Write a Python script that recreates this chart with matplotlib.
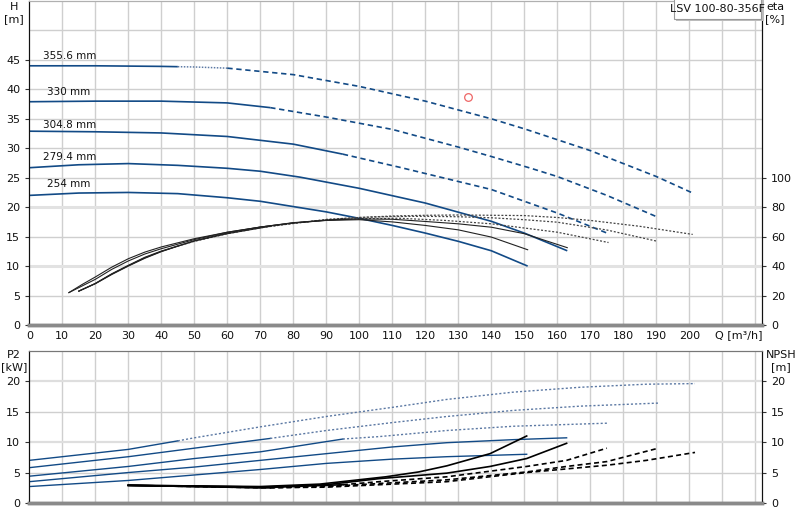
import numpy as np
import matplotlib
matplotlib.use("Agg")
import matplotlib.pyplot as plt
from matplotlib.patches import Rectangle

plt.rcParams['font.family'] = ['DejaVu Sans']

# ---------------- data ----------------
diam_labels = ["355.6 mm", "330 mm", "304.8 mm", "279.4 mm", "254 mm"]
label_pos_q = [4.2, 5.4, 4.2, 4.2, 5.4]
label_pos_h = [45.6, 39.6, 34.0, 28.6, 23.9]

# Head curves
Q_h355 = [0, 20, 40, 45, 50, 60, 80, 100, 120, 140, 150, 170, 190, 201]
H_355 = [44.0, 44.0, 43.9, 43.85, 43.8, 43.6, 42.5, 40.5, 38.0, 35.0, 33.3, 29.6, 25.2, 22.4]
Q_h330 = [0, 20, 40, 60, 73, 90, 110, 130, 140, 152, 160, 175, 190]
H_330 = [37.9, 38.0, 38.0, 37.7, 36.9, 35.3, 33.2, 30.2, 28.6, 26.6, 25.2, 22.0, 18.4]
Q_h305 = [0, 20, 40, 60, 80, 95, 112, 126, 140, 160, 175.5]
H_305 = [32.9, 32.8, 32.6, 32.0, 30.7, 29.0, 26.8, 24.9, 23.0, 19.0, 15.5]
Q_h279 = [0, 15, 30, 45, 60, 70, 82, 100, 120, 140, 150, 163]
H_279 = [26.7, 27.2, 27.4, 27.1, 26.6, 26.1, 25.1, 23.2, 20.7, 17.6, 15.6, 12.6]
Q_h254 = [0, 15, 30, 45, 60, 70, 80, 90, 100, 110, 120, 130, 140, 151]
H_254 = [22.0, 22.4, 22.5, 22.3, 21.6, 21.0, 20.1, 19.2, 18.1, 16.9, 15.6, 14.2, 12.6, 10.0]

# Efficiency curves (%)
Q_e254 = [12, 16, 20, 25, 30, 35, 40, 50, 60, 70, 80, 90, 100, 110, 120, 130, 140, 151]
E_254 = [22, 27.5, 32.6, 39.3, 45, 49.5, 53, 58.6, 63, 66.5, 69.3, 71, 71.5, 70, 67.6, 64.6, 59.7, 51.1]
Q_e279 = [12, 16, 20, 25, 30, 35, 40, 50, 60, 70, 80, 90, 100, 110, 120, 130, 140, 150, 163]
E_279 = [22, 26.5, 31.0, 37.8, 43.5, 48.2, 51.8, 58, 63, 66.5, 69.5, 71.2, 72, 71.8, 70.3, 68.7, 66.4, 62, 52.5]
Q_e305 = [15, 20, 25, 30, 35, 40, 50, 60, 70, 80, 95, 112, 126, 140, 160, 175.5]
E_305 = [23, 28.2, 34.8, 40.5, 46.0, 50.2, 57.2, 62.5, 66.5, 69.3, 72, 72.5, 71, 68.7, 63, 56]
Q_e330 = [15, 20, 25, 30, 35, 40, 50, 60, 73, 90, 100, 110, 120, 130, 140, 150, 160, 175, 190]
E_330 = [23, 28.2, 34.6, 40.3, 45.6, 50, 57, 62, 67, 71.7, 73, 73.7, 73.8, 73.5, 72.8, 71.5, 69.8, 64.5, 57]
Q_e355 = [15, 20, 25, 30, 35, 40, 45, 50, 60, 70, 80, 90, 100, 110, 120, 130, 140, 150, 160, 170, 185, 201]
E_355 = [23, 28.0, 34.3, 40.0, 45.3, 49.8, 53.6, 56.8, 62, 66, 69, 71.5, 73, 74, 74.5, 74.7, 74.5, 74.3, 73, 71, 67, 61.5]

# Power P2 (kW)
Q_p355 = [0, 30, 45, 50, 70, 90, 110, 126.5, 146.7, 167, 187, 201.7]
P_355 = [7.0, 8.8, 10.2, 10.7, 12.5, 14.2, 15.7, 17.0, 18.2, 19.0, 19.5, 19.6]
Q_p330 = [0, 30, 50, 73, 90, 110, 126.5, 146.7, 167, 190.6]
P_330 = [5.8, 7.6, 9.0, 10.6, 11.9, 13.2, 14.2, 15.2, 15.9, 16.4]
Q_p305 = [0, 30, 50, 70, 95, 106, 126.5, 146.7, 175]
P_305 = [4.4, 6.0, 7.3, 8.4, 10.5, 10.9, 11.9, 12.6, 13.1]
Q_p279 = [0, 30, 50, 70, 90, 110, 126.5, 146.7, 162.8]
P_279 = [3.5, 5.0, 5.9, 7.0, 8.1, 9.2, 9.9, 10.4, 10.7]
Q_p254 = [0, 30, 50, 70, 90, 110, 126.5, 150.7]
P_254 = [2.7, 3.7, 4.6, 5.5, 6.5, 7.2, 7.6, 8.0]

# NPSH (m)
Q_n355 = [30, 45, 70, 90, 106, 126.5, 150.7, 175, 187, 201.7]
N_355 = [2.9, 2.75, 2.5, 2.6, 3.0, 3.5, 5.0, 6.2, 7.0, 8.3]
Q_n330 = [30, 50, 73, 90, 106, 126.5, 150.7, 162.8, 175, 190.6]
N_330 = [2.9, 2.7, 2.5, 2.7, 3.2, 3.8, 5.1, 6.0, 6.8, 9.0]
Q_n305 = [30, 50, 70, 95, 106, 126.5, 150.7, 162.8, 175]
N_305 = [2.9, 2.7, 2.5, 3.0, 3.5, 4.3, 6.0, 7.0, 9.0]
Q_n279 = [30, 50, 70, 90, 106, 126.5, 139.6, 150.7, 162.8]
N_279 = [2.9, 2.8, 2.6, 3.0, 4.0, 4.9, 6.0, 7.3, 9.8]
Q_n254 = [30, 50, 70, 88, 98, 108, 118, 126.5, 139.6, 150.7]
N_254 = [2.9, 2.8, 2.7, 3.1, 3.7, 4.3, 5.1, 6.1, 8.1, 11.0]

# duty point
duty_q, duty_h = 132.8, 38.7

x_ticks = list(range(0, 201, 10))
h_ticks = [0, 5, 10, 15, 20, 25, 30, 35, 40, 45]
eta_ticks = [0, 20, 40, 60, 80, 100]
p_ticks = [0, 5, 10, 15, 20]

# solid end / dashed start per diameter (355.6, 330, 304.8, 279.4, 254)
solid_end = [45, 73, 95, 999, 999]
dash_start = [60, 73, 95, 999, 999]

# ---------------- styling ----------------
BLUE = '#124a86'
BLUE_LT = '#5b78a3'
GRID = '#cfcfcf'

W, Hpx = 800, 520
fig = plt.figure(figsize=(8, 5.2), dpi=100)

def fx(px):
    return px / W

def fy(py):
    return 1 - py / Hpx

axL, axR = 29.3, 762
ax = fig.add_axes([fx(axL), fy(325), fx(axR - axL), fy(1) - fy(325)])
ax2 = fig.add_axes([fx(axL), fy(503), fx(axR - axL), fy(350.7) - fy(503)])

XMAX = 222
for a in (ax, ax2):
    a.set_xlim(0, XMAX)
    for xv in range(10, 221, 10):
        a.axvline(xv, color=GRID, lw=1, zorder=0)

ax.set_ylim(0, 55)
ax2.set_ylim(0, 25)
for yv in range(5, 55, 5):
    if yv in (10, 20):
        ax.axhline(yv, color='#e2e2e2', lw=2.2, zorder=0)
    else:
        ax.axhline(yv, color=GRID, lw=1, zorder=0)
for yv in (5, 10, 15, 20):
    if yv in (10, 20):
        ax2.axhline(yv, color='#dedede', lw=1.6, zorder=0)
    else:
        ax2.axhline(yv, color=GRID, lw=1, zorder=0)


def seg(a, Q, V, lo, hi, **kw):
    Q = np.asarray(Q, float)
    V = np.asarray(V, float)
    m = (Q >= lo) & (Q <= hi)
    if m.sum() >= 2:
        a.plot(Q[m], V[m], **kw)


def styled(a, Q, V, i, color_solid, color_dot, lw, dash):
    seg(a, Q, V, -1, solid_end[i], color=color_solid, lw=lw, solid_capstyle='butt')
    if dash_start[i] > solid_end[i]:
        seg(a, Q, V, solid_end[i], dash_start[i], color=color_dot, lw=lw * 0.9,
            linestyle=(0, (1, 1)))
    seg(a, Q, V, dash_start[i], 9999, color=color_solid, lw=lw, linestyle=dash)


# head curves
HQ = [Q_h355, Q_h330, Q_h305, Q_h279, Q_h254]
HV = [H_355, H_330, H_305, H_279, H_254]
for i in range(5):
    styled(ax, HQ[i], HV[i], i, BLUE, BLUE_LT, 1.2, (0, (3.2, 2.2)))
    ax.text(label_pos_q[i], label_pos_h[i], diam_labels[i], fontsize=7.5,
            ha='left', va='center', color='#111')

ax.plot(duty_q, duty_h, 'o', mfc='none', mec='#ee6666', ms=5.5, mew=0.9, zorder=5)

# efficiency on twin axis
axe = ax.twinx()
axe.set_ylim(0, 220)
axe.set_xlim(0, XMAX)
EQ = [Q_e355, Q_e330, Q_e305, Q_e279, Q_e254]
EV = [E_355, E_330, E_305, E_279, E_254]
for i in range(5):
    Q = np.asarray(EQ[i], float)
    V = np.asarray(EV[i], float)
    m = Q <= solid_end[i]
    axe.plot(Q[m], V[m], color='#222', lw=0.8)
    m2 = Q >= solid_end[i]
    if m2.sum() >= 2:
        axe.plot(Q[m2], V[m2], color='#444', lw=0.9, linestyle=(0, (1.6, 1.4)))

# power curves
PQ = [Q_p355, Q_p330, Q_p305, Q_p279, Q_p254]
PV = [P_355, P_330, P_305, P_279, P_254]
for i in range(5):
    Q = np.asarray(PQ[i], float)
    V = np.asarray(PV[i], float)
    m = Q <= solid_end[i]
    ax2.plot(Q[m], V[m], color=BLUE, lw=1.0)
    m2 = Q >= solid_end[i]
    if m2.sum() >= 2:
        ax2.plot(Q[m2], V[m2], color=BLUE_LT, lw=1.0, linestyle=(0, (1.5, 1.5)))

# NPSH on twin
axn = ax2.twinx()
axn.set_ylim(0, 25)
axn.set_xlim(0, XMAX)
NQ = [Q_n355, Q_n330, Q_n305, Q_n279, Q_n254]
NV = [N_355, N_330, N_305, N_279, N_254]
for i in range(5):
    Q = np.asarray(NQ[i], float)
    V = np.asarray(NV[i], float)
    m = Q <= solid_end[i]
    axn.plot(Q[m], V[m], color='#000', lw=1.2)
    m2 = Q >= solid_end[i]
    if m2.sum() >= 2:
        axn.plot(Q[m2], V[m2], color='#000', lw=1.2, linestyle=(0, (3, 2)))

# ---------------- axes decoration ----------------
tick_kw = dict(labelsize=8, length=3, width=0.8, color='#333', labelcolor='#111')
ax.set_yticks(h_ticks)
ax.set_yticklabels([str(t) for t in h_ticks])
ax.tick_params(axis='y', **tick_kw)
ax.set_xticks(x_ticks)
ax.set_xticklabels([str(t) for t in x_ticks])
ax.tick_params(axis='x', labelsize=8, length=0, pad=4, labelcolor='#111')

axe.set_yticks(eta_ticks)
axe.set_yticklabels([str(t) for t in eta_ticks])
axe.tick_params(axis='y', **tick_kw)

ax2.set_xticks([])
ax2.set_yticks(p_ticks)
ax2.set_yticklabels([str(t) for t in p_ticks])
ax2.tick_params(axis='y', **tick_kw)
axn.set_yticks(p_ticks)
axn.set_yticklabels([str(t) for t in p_ticks])
axn.tick_params(axis='y', **tick_kw)

for a in (ax, axe):
    a.spines['left'].set_color('#111')
    a.spines['right'].set_color('#111')
    a.spines['bottom'].set_color('#8a8a8a')
    a.spines['bottom'].set_linewidth(2.5)
    a.spines['top'].set_color('#b0b0b0')
for a in (ax2, axn):
    a.spines['left'].set_color('#111')
    a.spines['right'].set_color('#111')
    a.spines['bottom'].set_color('#8a8a8a')
    a.spines['bottom'].set_linewidth(2.5)
    a.spines['top'].set_color('#777')

# axis titles
fig.text(fx(14), fy(7), "H", fontsize=8, ha='center', va='center', color='#111')
fig.text(fx(14), fy(19), "[m]", fontsize=8, ha='center', va='center', color='#111')
fig.text(fx(775), fy(7), "eta", fontsize=8, ha='center', va='center', color='#111')
fig.text(fx(775), fy(19), "[%]", fontsize=8, ha='center', va='center', color='#111')
fig.text(fx(14), fy(355), "P2", fontsize=8, ha='center', va='center', color='#111')
fig.text(fx(14), fy(367), "[kW]", fontsize=8, ha='center', va='center', color='#111')
fig.text(fx(781), fy(355), "NPSH", fontsize=8, ha='center', va='center', color='#111')
fig.text(fx(781), fy(367), "[m]", fontsize=8, ha='center', va='center', color='#111')
fig.text(fx(739), fy(335), "Q [m\u00b3/h]", fontsize=8, ha='center', va='center', color='#111')

# title box
fig.patches.append(Rectangle((fx(676), fy(21)), fx(88), fy(0) - fy(21) + 0.01,
                             transform=fig.transFigure, facecolor='#bdbdbd',
                             edgecolor='none', zorder=9))
fig.patches.append(Rectangle((fx(674), fy(19)), fx(87), fy(0) - fy(19) + 0.01,
                             transform=fig.transFigure, facecolor='white',
                             edgecolor='#9a9a9a', lw=0.8, zorder=10))
fig.text(fx(717), fy(9), "LSV 100-80-356F", fontsize=8, ha='center', va='center',
         color='#111', zorder=11)

fig.savefig("out.png", dpi=100)
